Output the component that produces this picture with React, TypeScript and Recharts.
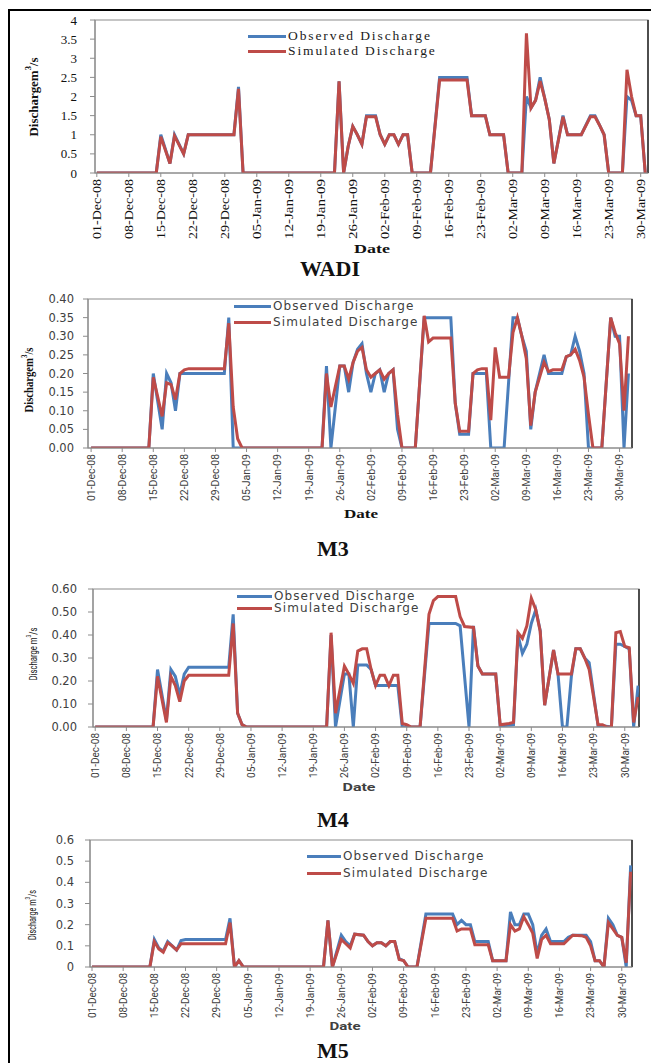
import React from 'react';
import { LineChart, Line, XAxis, YAxis, Legend, ReferenceArea, ReferenceLine } from 'recharts';

type Pt = [number, number];

// day 0 = 01-Dec-08, one value per day where the line bends
const weekTicks = [0, 7, 14, 21, 28, 35, 42, 49, 56, 63, 70, 77, 84, 91, 98, 105, 112, 119];
const weekLabels = [
  '01-Dec-08', '08-Dec-08', '15-Dec-08', '22-Dec-08', '29-Dec-08', '05-Jan-09', '12-Jan-09', '19-Jan-09',
  '26-Jan-09', '02-Feb-09', '09-Feb-09', '16-Feb-09', '23-Feb-09', '02-Mar-09', '09-Mar-09', '16-Mar-09',
  '23-Mar-09', '30-Mar-09',
];

const wadiTicks = [0, 0.5, 1, 1.5, 2, 2.5, 3, 3.5, 4];
const m3Ticks = [0, 0.05, 0.1, 0.15, 0.2, 0.25, 0.3, 0.35, 0.4];
const m4Ticks = [0, 0.1, 0.2, 0.3, 0.4, 0.5, 0.6];
const m5Ticks = [0, 0.1, 0.2, 0.3, 0.4, 0.5, 0.6];

const wadiObserved: Pt[] = [
  [0, 0], [13, 0], [14, 1], [16, 0.25], [17, 1], [19, 0.5], [20, 1], [30, 1], [31, 2.25], [32, 0],
  [52, 0], [53, 2.4], [54, 0], [55, 0.7], [56, 1.22], [57, 1], [58, 0.75], [59, 1.5], [61, 1.5], [62, 1],
  [63, 0.75], [64, 1], [65, 1], [66, 0.75], [67, 1], [68, 1], [69, 0], [73, 0], [75, 2.5], [81, 2.5],
  [82, 1.5], [85, 1.5], [86, 1], [89, 1], [90, 0], [93, 0], [94, 2], [95, 1.7], [96, 1.9], [97, 2.5],
  [98, 1.95], [99, 1.4], [100, 0.25], [102, 1.5], [103, 1], [106, 1], [108, 1.5], [109, 1.5], [110, 1.25],
  [111, 1], [112, 0], [115, 0], [116, 2], [117, 1.9], [118, 1.5], [119, 1.5], [120, 0],
];
const wadiSimulated: Pt[] = [
  [0, 0], [13, 0], [14, 0.95], [16, 0.25], [17, 0.97], [19, 0.5], [20, 1], [30, 1], [31, 2.2], [32, 0],
  [52, 0], [53, 2.4], [54, 0], [55, 0.7], [56, 1.22], [57, 1], [58, 0.75], [59, 1.47], [61, 1.47], [62, 1],
  [63, 0.75], [64, 1], [65, 1], [66, 0.75], [67, 1], [68, 1], [69, 0], [73, 0], [75, 2.43], [81, 2.43],
  [82, 1.5], [85, 1.5], [86, 1], [89, 1], [90, 0], [93, 0], [94, 3.65], [95, 1.7], [96, 1.9], [97, 2.4],
  [98, 1.95], [99, 1.4], [100, 0.25], [102, 1.47], [103, 1], [106, 1], [108, 1.47], [109, 1.47], [110, 1.25],
  [111, 1], [112, 0], [115, 0], [116, 2.7], [117, 2], [118, 1.5], [119, 1.5], [120, 0],
];

const m3Observed: Pt[] = [
  [0, 0], [13, 0], [14, 0.2], [16, 0.05], [17, 0.2], [18, 0.175], [19, 0.1], [20, 0.2], [30, 0.2], [31, 0.35],
  [32, 0], [52, 0], [53, 0.22], [54, 0], [56, 0.22], [57, 0.22], [58, 0.15], [59, 0.23], [60, 0.265], [61, 0.28],
  [62, 0.2], [63, 0.15], [64, 0.2], [65, 0.21], [66, 0.15], [67, 0.2], [68, 0.21], [69, 0.05], [70, 0], [73, 0],
  [75, 0.35], [81, 0.35], [82, 0.12], [83, 0.037], [85, 0.037], [86, 0.2], [89, 0.2], [90, 0], [93, 0], [95, 0.35],
  [96, 0.35], [97, 0.3], [98, 0.26], [99, 0.05], [100, 0.15], [102, 0.25], [103, 0.2], [106, 0.2], [107, 0.245],
  [108, 0.25], [109, 0.3], [110, 0.26], [111, 0.2], [112, 0], [115, 0], [117, 0.35], [118, 0.3], [119, 0.3],
  [120, 0], [121, 0.2],
];
const m3Simulated: Pt[] = [
  [0, 0], [13, 0], [14, 0.19], [16, 0.085], [17, 0.175], [18, 0.17], [19, 0.13], [20, 0.2], [21, 0.21], [22, 0.213],
  [30, 0.213], [31, 0.335], [32, 0.11], [33, 0.025], [34, 0], [52, 0], [53, 0.2], [54, 0.11], [56, 0.22], [57, 0.22],
  [58, 0.185], [59, 0.23], [60, 0.26], [61, 0.27], [62, 0.21], [63, 0.19], [64, 0.2], [65, 0.21], [66, 0.185],
  [67, 0.2], [68, 0.21], [69, 0.09], [70, 0], [73, 0], [75, 0.355], [76, 0.285], [77, 0.295], [81, 0.295],
  [82, 0.12], [83, 0.045], [85, 0.045], [86, 0.2], [87, 0.21], [88, 0.213], [89, 0.213], [90, 0.075], [91, 0.27],
  [92, 0.19], [94, 0.19], [95, 0.31], [96, 0.35], [97, 0.3], [98, 0.24], [99, 0.06], [100, 0.15], [102, 0.23],
  [103, 0.205], [104, 0.21], [106, 0.21], [107, 0.245], [108, 0.25], [109, 0.265], [110, 0.235], [111, 0.19],
  [112, 0.09], [113, 0], [115, 0], [117, 0.35], [118, 0.31], [119, 0.28], [120, 0.1], [121, 0.3],
];

const m4Observed: Pt[] = [
  [0, 0], [13, 0], [14, 0.25], [16, 0.03], [17, 0.25], [18, 0.22], [19, 0.14], [20, 0.23], [21, 0.26], [30, 0.26],
  [31, 0.49], [32, 0.06], [33, 0.01], [34, 0], [52, 0], [53, 0.4], [54, 0], [56, 0.23], [57, 0.23], [58, 0],
  [59, 0.27], [61, 0.27], [62, 0.25], [63, 0.18], [68, 0.18], [69, 0], [73, 0], [75, 0.45], [81, 0.45],
  [82, 0.44], [84, 0], [85, 0.44], [86, 0.265], [87, 0.23], [90, 0.23], [91, 0.005], [94, 0.01], [95, 0.4],
  [96, 0.32], [97, 0.36], [98, 0.45], [99, 0.51], [100, 0.42], [101, 0.095], [103, 0.335], [104, 0.23], [105, 0],
  [106, 0], [107, 0.22], [108, 0.34], [109, 0.34], [110, 0.3], [111, 0.28], [113, 0.005], [114, 0.005], [116, 0],
  [117, 0.36], [118, 0.36], [119, 0.35], [120, 0.34], [121, 0], [122, 0.18],
];
const m4Simulated: Pt[] = [
  [0, 0], [13, 0], [14, 0.22], [16, 0.02], [17, 0.22], [18, 0.18], [19, 0.11], [20, 0.2], [21, 0.225], [30, 0.225],
  [31, 0.45], [32, 0.06], [33, 0.01], [34, 0], [52, 0], [53, 0.41], [54, 0.06], [56, 0.265], [57, 0.23], [58, 0.19],
  [59, 0.33], [60, 0.34], [61, 0.34], [62, 0.25], [63, 0.18], [64, 0.225], [65, 0.225], [66, 0.18], [67, 0.225],
  [68, 0.225], [69, 0.015], [70, 0.01], [71, 0], [73, 0], [75, 0.49], [76, 0.55], [77, 0.567], [81, 0.567],
  [82, 0.48], [83, 0.437], [85, 0.433], [86, 0.265], [87, 0.23], [90, 0.23], [91, 0.01], [93, 0.015], [94, 0.02],
  [95, 0.41], [96, 0.385], [97, 0.44], [98, 0.56], [99, 0.51], [100, 0.415], [101, 0.095], [103, 0.335],
  [104, 0.23], [107, 0.23], [108, 0.34], [109, 0.34], [110, 0.3], [111, 0.25], [113, 0.01], [114, 0.01], [115, 0],
  [116, 0], [117, 0.41], [118, 0.415], [119, 0.35], [120, 0.345], [121, 0.02], [122, 0.13],
];

const m5Observed: Pt[] = [
  [0, 0], [13, 0], [14, 0.13], [15, 0.09], [16, 0.075], [17, 0.12], [18, 0.1], [19, 0.08], [20, 0.125], [21, 0.13],
  [30, 0.13], [31, 0.23], [32, 0], [33, 0.03], [34, 0], [52, 0], [53, 0.22], [54, 0], [56, 0.15], [57, 0.12],
  [58, 0.1], [59, 0.155], [61, 0.15], [62, 0.12], [63, 0.1], [64, 0.115], [65, 0.115], [66, 0.1], [67, 0.12],
  [68, 0.12], [69, 0.04], [70, 0.03], [71, 0], [73, 0], [75, 0.25], [81, 0.25], [82, 0.2], [83, 0.22], [84, 0.2],
  [85, 0.2], [86, 0.12], [89, 0.12], [90, 0.03], [93, 0.03], [94, 0.26], [95, 0.2], [96, 0.2], [97, 0.25],
  [98, 0.25], [99, 0.2], [100, 0.06], [101, 0.15], [102, 0.18], [103, 0.12], [106, 0.12], [107, 0.14], [108, 0.15],
  [111, 0.15], [112, 0.12], [113, 0.03], [114, 0.03], [115, 0], [116, 0.23], [117, 0.2], [118, 0.15], [119, 0.14],
  [120, 0], [121, 0.48],
];
const m5Simulated: Pt[] = [
  [0, 0], [13, 0], [14, 0.12], [15, 0.085], [16, 0.07], [17, 0.115], [18, 0.1], [19, 0.08], [20, 0.11], [30, 0.11],
  [31, 0.21], [32, 0], [33, 0.03], [34, 0], [52, 0], [53, 0.22], [54, 0], [56, 0.13], [57, 0.11], [58, 0.09],
  [59, 0.155], [61, 0.15], [62, 0.12], [63, 0.1], [64, 0.115], [65, 0.115], [66, 0.1], [67, 0.12], [68, 0.12],
  [69, 0.035], [70, 0.03], [71, 0], [73, 0], [75, 0.23], [81, 0.23], [82, 0.17], [83, 0.18], [85, 0.18],
  [86, 0.105], [89, 0.105], [90, 0.03], [93, 0.03], [94, 0.2], [95, 0.17], [96, 0.18], [97, 0.237], [98, 0.2],
  [99, 0.16], [100, 0.04], [101, 0.13], [102, 0.15], [103, 0.11], [106, 0.11], [107, 0.13], [108, 0.15],
  [110, 0.148], [111, 0.14], [112, 0.1], [113, 0.03], [114, 0.03], [115, 0], [116, 0.21], [117, 0.18], [118, 0.15],
  [119, 0.14], [120, 0.02], [121, 0.45],
];

const OBS = '#4a7ebb';
const SIM = '#be4b48';
const SERIF = "'Liberation Serif', 'Times New Roman', serif";
const SANS = "'DejaVu Sans', sans-serif";
const NARROW = 'Roboto, sans-serif';

const toRows = (pts: Pt[]) => pts.map(([day, q]) => ({ day, q }));

interface PanelCfg {
  top: number;
  height: number;
  box: { left: number; right: number; top: number; bottom: number };
  xDomain: [number, number];
  yTicks: number[];
  yFmt: (v: number) => string;
  yTickFont: { fontFamily: string; fontSize: number; fill: string };
  yGap: number;
  xFont: string;
  xSize: number;
  xLen: number;
  ink: string;
  legend: { x: number; y: number; row: number; swatch: number; font: string; size: number; spacing: number; color: string };
  observed: Pt[];
  simulated: Pt[];
}

function Panel(p: PanelCfg) {
  const { top, height, box } = p;
  const yMax = p.yTicks[p.yTicks.length - 1];

  const dateTick = (props: any) => {
    const { x, y, payload } = props;
    const label = weekLabels[weekTicks.indexOf(payload.value)];
    return (
      <text
        x={x}
        y={y}
        transform={`rotate(-90 ${x} ${y})`}
        textAnchor="end"
        dy="0.35em"
        fontFamily={p.xFont}
        fontSize={p.xSize}
        fill={p.ink}
        textLength={p.xLen}
        lengthAdjust="spacingAndGlyphs"
      >
        {label}
      </text>
    );
  };

  const legendBox = (props: any) => (
    <div>
      {(props.payload || []).map((e: any) => (
        <div key={e.value} style={{ display: 'flex', alignItems: 'center', height: p.legend.row }}>
          <span style={{ display: 'inline-block', width: p.legend.swatch, height: 3, background: e.color, marginRight: 2 }} />
          <span
            style={{
              fontFamily: p.legend.font,
              fontSize: p.legend.size,
              letterSpacing: p.legend.spacing,
              color: p.legend.color,
              whiteSpace: 'nowrap',
              lineHeight: 1,
            }}
          >
            {e.value}
          </span>
        </div>
      ))}
    </div>
  );

  return (
    <div style={{ position: 'absolute', left: 0, top }}>
      <LineChart
        width={651}
        height={height}
        margin={{ top: box.top - top, right: 651 - box.right, bottom: 0, left: 0 }}
      >
        <XAxis
          type="number"
          dataKey="day"
          domain={p.xDomain}
          allowDataOverflow
          ticks={weekTicks}
          interval={0}
          tick={dateTick}
          tickSize={4}
          tickMargin={2}
          height={height - (box.bottom - top)}
          axisLine={{ stroke: '#8c8c8c' }}
          tickLine={{ stroke: '#8c8c8c' }}
        />
        <YAxis
          type="number"
          domain={[0, yMax]}
          allowDataOverflow
          ticks={p.yTicks}
          interval={0}
          tickFormatter={p.yFmt}
          tick={p.yTickFont}
          tickSize={5}
          tickMargin={p.yGap}
          width={box.left}
          axisLine={{ stroke: '#8c8c8c' }}
          tickLine={{ stroke: '#8c8c8c' }}
        />
        <ReferenceArea
          x1={p.xDomain[0]}
          x2={p.xDomain[1]}
          y1={0}
          y2={yMax}
          fill="none"
          stroke="#8c8c8c"
          strokeWidth={1.2}
        />
        <ReferenceLine x={p.xDomain[1]} stroke="#333" strokeWidth={1.6} />
        <Legend
          layout="vertical"
          align="center"
          verticalAlign="middle"
          content={legendBox}
          wrapperStyle={{ position: 'absolute', left: p.legend.x, top: p.legend.y - top, width: 'auto' }}
        />
        <Line
          data={toRows(p.observed)}
          dataKey="q"
          name="Observed Discharge"
          type="linear"
          stroke={OBS}
          strokeWidth={3}
          dot={false}
          activeDot={false}
          isAnimationActive={false}
        />
        <Line
          data={toRows(p.simulated)}
          dataKey="q"
          name="Simulated Discharge"
          type="linear"
          stroke={SIM}
          strokeWidth={3}
          dot={false}
          activeDot={false}
          isAnimationActive={false}
        />
      </LineChart>
    </div>
  );
}

const grey = '#404040';
const sansLegend = { font: SANS, size: 12, spacing: 1.1, color: grey };

const panels: PanelCfg[] = [
  {
    top: 0, height: 250, box: { left: 95, right: 648, top: 20, bottom: 173 }, xDomain: [-0.4, 120.6],
    yTicks: wadiTicks, yFmt: (v) => String(v), yTickFont: { fontFamily: SERIF, fontSize: 13, fill: '#111' }, yGap: 13,
    xFont: SERIF, xSize: 12.5, xLen: 60, ink: '#111',
    legend: { x: 248, y: 28.5, row: 15, swatch: 38, font: SERIF, size: 13.5, spacing: 1.9, color: '#1a1a1a' },
    observed: wadiObserved, simulated: wadiSimulated,
  },
  {
    top: 280, height: 240, box: { left: 88, right: 632, top: 299, bottom: 448 }, xDomain: [-0.7, 121.8],
    yTicks: m3Ticks, yFmt: (v) => v.toFixed(2), yTickFont: { fontFamily: SANS, fontSize: 11.5, fill: grey }, yGap: 9,
    xFont: NARROW, xSize: 11, xLen: 47, ink: grey,
    legend: { x: 234, y: 298, row: 16, swatch: 37, ...sansLegend },
    observed: m3Observed, simulated: m3Simulated,
  },
  {
    top: 570, height: 230, box: { left: 93, right: 639, top: 589, bottom: 727 }, xDomain: [-0.5, 122.2],
    yTicks: m4Ticks, yFmt: (v) => v.toFixed(2), yTickFont: { fontFamily: SANS, fontSize: 11.5, fill: grey }, yGap: 11,
    xFont: NARROW, xSize: 11, xLen: 45, ink: grey,
    legend: { x: 237, y: 590, row: 12, swatch: 35, ...sansLegend },
    observed: m4Observed, simulated: m4Simulated,
  },
  {
    top: 830, height: 200, box: { left: 90, right: 632, top: 840, bottom: 967 }, xDomain: [-0.45, 121.3],
    yTicks: m5Ticks, yFmt: (v) => String(v), yTickFont: { fontFamily: SANS, fontSize: 11.5, fill: grey }, yGap: 11,
    xFont: NARROW, xSize: 11, xLen: 45, ink: grey,
    legend: { x: 307, y: 847.5, row: 17, swatch: 34, ...sansLegend },
    observed: m5Observed, simulated: m5Simulated,
  },
];

function YTitle({ x, y, len, font, size, bold, gap, fill }: any) {
  return (
    <text
      x={x}
      y={y}
      transform={`rotate(-90 ${x} ${y})`}
      textAnchor="middle"
      dominantBaseline="central"
      fontFamily={font}
      fontSize={size}
      fontWeight={bold ? 'bold' : 'normal'}
      fill={fill}
      textLength={len}
      lengthAdjust="spacingAndGlyphs"
    >
      {`Discharge${gap ? ' ' : ''}m`}
      <tspan baselineShift="super" fontSize={size * 0.65}>3</tspan>
      /s
    </text>
  );
}

function Caption({ x, y, text, font, size, len, fill = '#111' }: any) {
  return (
    <text
      x={x}
      y={y}
      textAnchor="middle"
      dominantBaseline="central"
      fontFamily={font}
      fontSize={size}
      fontWeight="bold"
      fill={fill}
      textLength={len}
      lengthAdjust={len ? 'spacingAndGlyphs' : undefined}
    >
      {text}
    </text>
  );
}

export default function App() {
  return (
    <div
      style={{
        position: 'absolute', left: 0, top: 0, width: 651, height: 1063, overflow: 'hidden', background: '#fff',
      }}
    >
      <div
        style={{
          position: 'absolute', left: 8, top: 9, width: 700, height: 1100,
          borderLeft: '2.5px solid #000', borderTop: '2.5px solid #000',
        }}
      />
      {panels.map((p) => (
        <Panel key={p.top} {...p} />
      ))}
      <svg width={651} height={1063} style={{ position: 'absolute', left: 0, top: 0, pointerEvents: 'none' }}>
        <YTitle x={33} y={97} len={79} font={SERIF} size={13} bold fill="#111" />
        <Caption x={372} y={248} text="Date" font={SERIF} size={13.5} len={36} />
        <Caption x={330} y={268} text="WADI" font={SERIF} size={22} />

        <YTitle x={29} y={380} len={65} font={SERIF} size={11.5} bold fill="#111" />
        <Caption x={361} y={514} text="Date" font={SERIF} size={11.5} len={34} />
        <Caption x={333} y={548} text="M3" font={SERIF} size={22} />

        <YTitle x={33} y={654} len={53} font={NARROW} size={11} gap fill="#222" />
        <Caption x={359} y={787} text="Date" font={NARROW} size={11} len={33} fill={grey} />
        <Caption x={333} y={819} text="M4" font={SERIF} size={22} />

        <YTitle x={32} y={915} len={50} font={NARROW} size={11} gap fill="#222" />
        <Caption x={345} y={1026} text="Date" font={NARROW} size={11} len={31} fill={grey} />
        <Caption x={333} y={1050} text="M5" font={SERIF} size={22} />
      </svg>
    </div>
  );
}
